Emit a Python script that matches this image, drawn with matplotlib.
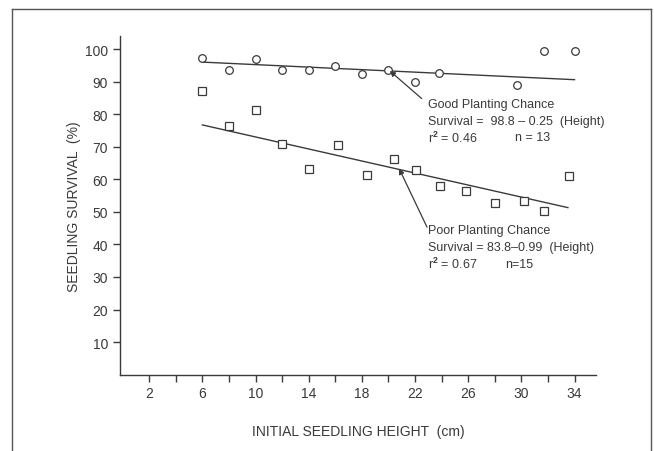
import numpy as np
import matplotlib as mpl
import matplotlib.pyplot as plt
from matplotlib.lines import Line2D

mpl.rcParams.update({
    "font.family": "Liberation Sans",
    "font.size": 9,
    "axes.linewidth": 1.0,
    "mathtext.fontset": "custom",
    "mathtext.rm": "Liberation Sans",
    "mathtext.bf": "Liberation Sans:bold",
})

# ===== DATA =====
good_x = [6, 8, 10, 12, 14, 16, 18, 20, 22, 23.8, 29.7, 31.7, 34]
good_y = [97.3, 93.6, 96.9, 93.7, 93.7, 94.9, 92.4, 93.7, 90.0, 92.7, 89.0, 99.4, 99.4]

poor_x = [6, 8, 10, 12, 14, 16.2, 18.4, 20.4, 22.1, 23.9, 25.8, 28, 30.2, 31.7, 33.6]
poor_y = [87.0, 76.5, 81.3, 70.9, 63.2, 70.5, 61.2, 66.1, 62.9, 57.8, 56.3, 52.6, 53.2, 50.2, 61.0]

good_fit_x = [6, 34]
good_fit_y = [96.0, 90.6]
poor_fit_x = [6, 33.5]
poor_fit_y = [76.7, 51.3]

x_major = [2, 6, 10, 14, 18, 22, 26, 30, 34]
x_minor = [4, 8, 12, 16, 20, 24, 28, 32]
y_ticks = [10, 20, 30, 40, 50, 60, 70, 80, 90, 100]

good_text = ["Good Planting Chance",
             "Survival =  98.8 \u2013 0.25  (Height)",
             "r$^{\\mathbf{2}}$ = 0.46"]
poor_text = ["Poor Planting Chance",
             "Survival = 83.8\u20130.99  (Height)",
             "r$^{\\mathbf{2}}$ = 0.67"]

INK = "#3a3a3a"

# ===== PLOT =====
fig = plt.figure(figsize=(6.54, 4.52), dpi=100)
ax = fig.add_axes([0.1835, 0.169, 0.7275, 0.749])

ax.plot(good_fit_x, good_fit_y, "-", color=INK, lw=1.0)
ax.plot(poor_fit_x, poor_fit_y, "-", color=INK, lw=1.0)
ax.plot(good_x, good_y, "o", ms=5.5, mfc="white", mec=INK, mew=0.9)
ax.plot(poor_x, poor_y, "s", ms=5.2, mfc="white", mec=INK, mew=0.9)

ax.set_xlim(-0.2, 35.6)
ax.set_ylim(0, 104)
ax.set_xticks(x_major)
ax.set_xticks(x_minor, minor=True)
ax.set_yticks(y_ticks)
ax.tick_params(axis="both", direction="out", length=5, width=1.0,
               colors=INK, labelsize=10)
ax.tick_params(axis="x", which="minor", direction="out", length=5, width=1.0, color=INK)
for s in ["top", "right"]:
    ax.spines[s].set_visible(False)
for s in ["left", "bottom"]:
    ax.spines[s].set_color(INK)

ax.set_xlabel("INITIAL SEEDLING HEIGHT  (cm)", fontsize=10, color=INK, labelpad=17)
ax.set_ylabel("SEEDLING SURVIVAL  (%)", fontsize=10, color=INK, labelpad=3)

# annotations
ax.annotate("", xy=(20.1, 93.3), xytext=(22.5, 84.8),
            arrowprops=dict(arrowstyle="-|>", color=INK, lw=0.9,
                            mutation_scale=8, shrinkA=0, shrinkB=0))
ax.annotate("", xy=(20.8, 63.3), xytext=(22.9, 45.3),
            arrowprops=dict(arrowstyle="-|>", color=INK, lw=0.9,
                            mutation_scale=8, shrinkA=0, shrinkB=0))

tx = 23.0
for i, t in enumerate(good_text):
    ax.text(tx, 83.1 - i * 5.1, t, fontsize=9, color=INK, va="center", ha="left")
ax.text(29.5, 83.1 - 2 * 5.1, "n = 13", fontsize=9, color=INK, va="center", ha="left")

for i, t in enumerate(poor_text):
    ax.text(tx, 44.3 - i * 5.1, t, fontsize=9, color=INK, va="center", ha="left")
ax.text(28.8, 44.3 - 2 * 5.1, "n=15", fontsize=9, color=INK, va="center", ha="left")

# page frame (open at the bottom)
fx0, fx1 = 12 / 654, 651 / 654
fy1 = 1 - 10 / 452
for xs, ys in [([fx0, fx0], [0, fy1]), ([fx0, fx1], [fy1, fy1]), ([fx1, fx1], [0, fy1])]:
    fig.add_artist(Line2D(xs, ys, transform=fig.transFigure, color="#555555", lw=1.0))

fig.savefig("out.png", dpi=100)
